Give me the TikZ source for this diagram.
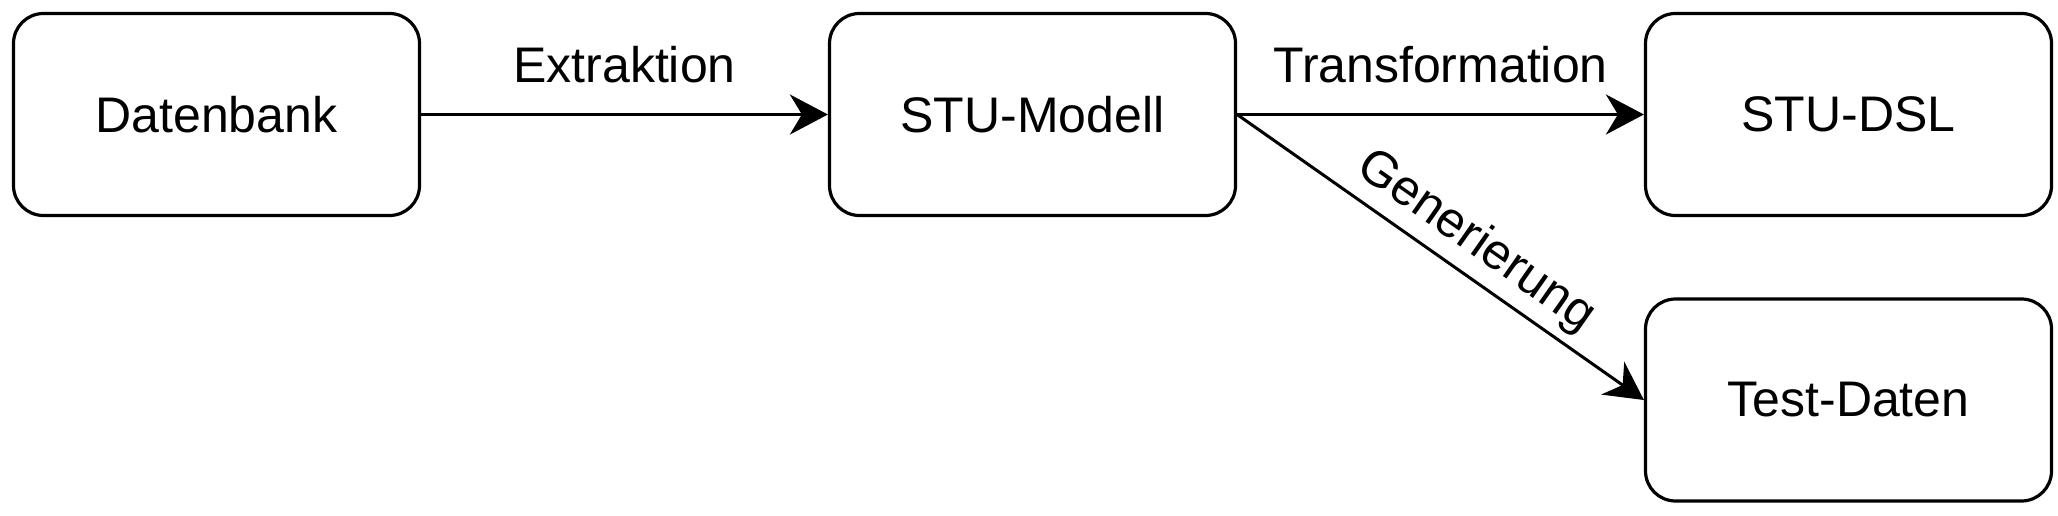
\documentclass[tikz,border=0pt]{standalone}
\usepackage{fontspec}
\setmainfont{Liberation Sans}
\usetikzlibrary{arrows.meta}
\begin{document}
\begin{tikzpicture}[x=1pt,y=1pt,
  box/.style={draw=black, line width=3.2pt, rounded corners=30pt, minimum width=406pt, minimum height=202pt, inner sep=0pt, font=\fontsize{50}{60}\selectfont},
  conn/.style={line width=3pt, -{Stealth[length=38pt,width=40pt,inset=12pt]}},
  lbl/.style={font=\fontsize{50}{60}\selectfont, inner sep=0pt}]
\useasboundingbox (0,0) rectangle (2058,-516);
\node[box] (db) at (216.5,-114.5) {Datenbank};
\node[box] (mod) at (1032.5,-114.5) {STU-Modell};
\node[box] (dsl) at (1848.5,-114.5) {STU-DSL};
\node[box] (td) at (1848.5,-400) {Test-Daten};
\draw[conn] (db.east) -- node[lbl, above=30pt] {Extraktion} (mod.west);
\draw[conn] (mod.east) -- node[lbl, above=30pt] {Transformation} (dsl.west);
\draw[conn] (mod.east) -- node[lbl, sloped, above=8pt, pos=0.54] {Generierung} (td.west);
\end{tikzpicture}
\end{document}
